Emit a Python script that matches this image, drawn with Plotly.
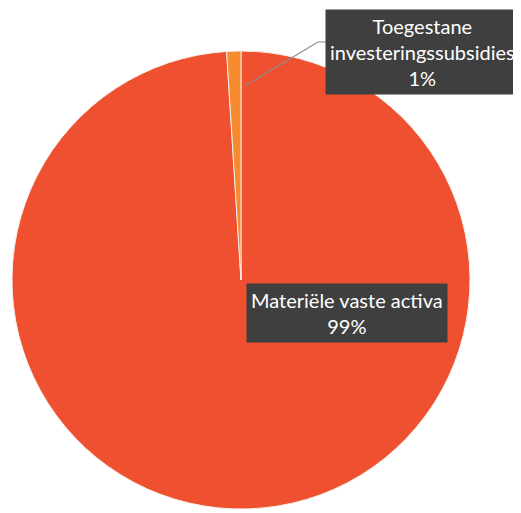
import plotly.graph_objects as go

categories = ["Materiële vaste activa", "Toegestane investeringssubsidies"]
values = [99, 1]
colors = ["#EF5130", "#F68A2E"]
label_lines = [["Materiële vaste activa"], ["Toegestane", "investeringssubsidies"]]

OFF = 8  # page body margin
W, H = 521 - OFF, 513 - OFF
total = sum(values)
pcts = [f"{round(v / total * 100)}%" for v in values]

def px(x, y):
    return (x - OFF) / W, 1 - (y - OFF) / H

dx0, dy1 = px(12, 51)
dx1, dy0 = px(470, 509)

fig = go.Figure(go.Pie(
    labels=categories, values=values, sort=False, direction="clockwise", rotation=0,
    marker=dict(colors=colors, line=dict(color="#F4EDE8", width=1)),
    textinfo="none", hoverinfo="label+percent", showlegend=False,
    domain=dict(x=[dx0, dx1], y=[dy0, dy1]),
))

font = dict(family="Lato, Open Sans, sans-serif", size=20, color="white")

x0, y0 = px(347, 313)
fig.add_annotation(x=x0, y=y0, xref="paper", yref="paper", showarrow=False,
                   xanchor="center", yanchor="middle",
                   text="<br>".join(label_lines[0] + [pcts[0]]), font=font,
                   bgcolor="#3F3F3F", borderpad=4, align="center")

fig.add_shape(type="path", xref="paper", yref="paper",
              path="M {} {} L {} {} L {} {}".format(*px(245, 86), *px(318, 42), *px(326, 42)),
              line=dict(color="#8C8C8C", width=1.2))

x1, y1 = px(422, 52)
fig.add_annotation(x=x1, y=y1, xref="paper", yref="paper", showarrow=False,
                   xanchor="center", yanchor="middle",
                   text="<br>".join(label_lines[1] + [pcts[1]]), font=font,
                   bgcolor="#3F3F3F", borderpad=4, align="center")

fig.update_layout(width=W, height=H, margin=dict(l=0, r=0, t=0, b=0),
                  paper_bgcolor="white", plot_bgcolor="white")
fig.write_html("out.html")
